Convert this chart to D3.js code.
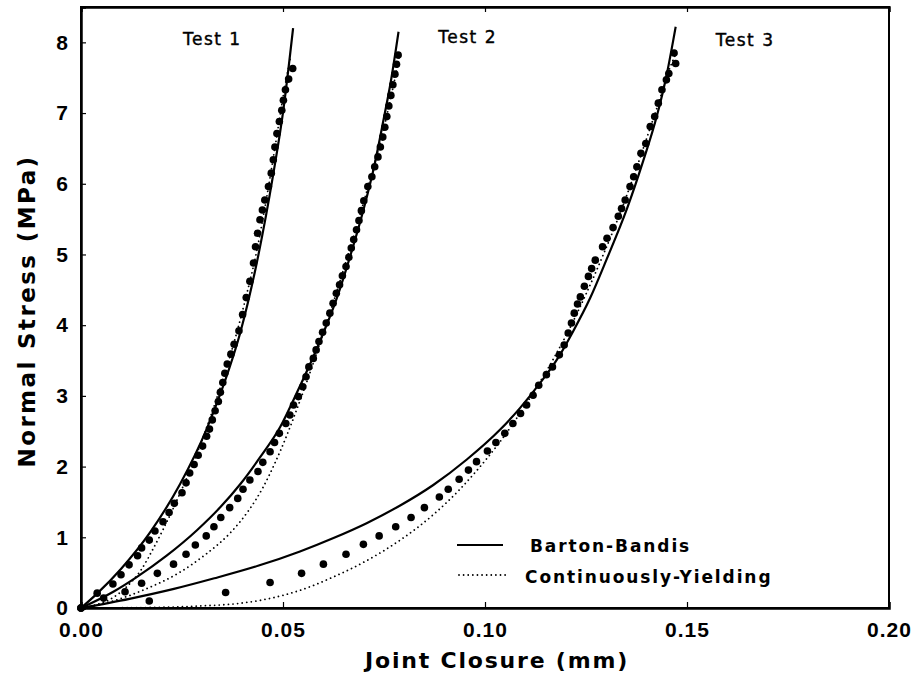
<!DOCTYPE html>
<html>
<head>
<meta charset="utf-8">
<script src="https://cdn.jsdelivr.net/npm/d3@7"></script>
<style>
  body { margin: 0; background: #fff; }
  svg { display: block; }
</style>
</head>
<body>
<svg id="chart" width="914" height="691"></svg>
<script>
// ---- data: joint closure (mm) vs normal stress (MPa) ----
const xTickValues = [0, 0.05, 0.10, 0.15, 0.20];
const yTickValues = [0, 1, 2, 3, 4, 5, 6, 7, 8];
const testNames = ["Test 1", "Test 2", "Test 3"];
const modelNames = ["Barton-Bandis", "Continuously-Yielding"];

// measured points [closure, stress]
const test1Measured = [
  [0, 0], [0.0040, 0.21], [0.0079, 0.34], [0.0099, 0.47], [0.0119, 0.61], [0.0140, 0.74],
  [0.0150, 0.85], [0.0169, 0.96], [0.0183, 1.09], [0.0203, 1.22], [0.0218, 1.35], [0.0231, 1.48],
  [0.0250, 1.63], [0.0260, 1.77], [0.0269, 1.91], [0.0280, 2.03], [0.0290, 2.16], [0.0301, 2.29],
  [0.0311, 2.43], [0.0318, 2.53], [0.0325, 2.66], [0.0332, 2.79], [0.0340, 2.92], [0.0345, 3.05],
  [0.0351, 3.19], [0.0356, 3.32], [0.0362, 3.45], [0.0371, 3.59], [0.0379, 3.73], [0.0391, 3.92],
  [0.0400, 4.15], [0.0409, 4.39], [0.0418, 4.62], [0.0427, 4.88], [0.0432, 5.11], [0.0437, 5.30],
  [0.0443, 5.49], [0.0449, 5.63], [0.0455, 5.77], [0.0464, 5.96], [0.0471, 6.15], [0.0476, 6.34],
  [0.0480, 6.52], [0.0485, 6.71], [0.0491, 6.88], [0.0497, 7.04], [0.0501, 7.18], [0.0506, 7.33],
  [0.0514, 7.48], [0.0524, 7.63]
];
const test2Measured = [
  [0, 0], [0.0056, 0.14], [0.0109, 0.23], [0.0150, 0.35], [0.0189, 0.49], [0.0229, 0.62],
  [0.0260, 0.76], [0.0283, 0.89], [0.0310, 1.02], [0.0329, 1.15], [0.0346, 1.28], [0.0368, 1.42],
  [0.0388, 1.55], [0.0401, 1.68], [0.0418, 1.81], [0.0438, 1.93], [0.0450, 2.06], [0.0468, 2.21],
  [0.0479, 2.34], [0.0491, 2.47], [0.0507, 2.61], [0.0517, 2.73], [0.0526, 2.87], [0.0538, 2.99],
  [0.0549, 3.13], [0.0557, 3.27], [0.0564, 3.41], [0.0575, 3.53], [0.0582, 3.65], [0.0589, 3.77],
  [0.0598, 3.90], [0.0607, 4.03], [0.0616, 4.17], [0.0624, 4.31], [0.0632, 4.45], [0.0640, 4.57],
  [0.0647, 4.70], [0.0656, 4.83], [0.0663, 4.96], [0.0669, 5.09], [0.0675, 5.21], [0.0682, 5.35],
  [0.0688, 5.48], [0.0694, 5.62], [0.0700, 5.76], [0.0710, 5.96], [0.0720, 6.10], [0.0727, 6.24],
  [0.0735, 6.38], [0.0741, 6.52], [0.0747, 6.66], [0.0752, 6.80], [0.0757, 6.95], [0.0762, 7.10],
  [0.0767, 7.25], [0.0772, 7.40], [0.0777, 7.55], [0.0781, 7.69], [0.0785, 7.82]
];
const test3Measured = [
  [0, 0], [0.0169, 0.10], [0.0358, 0.22], [0.0468, 0.36], [0.0546, 0.49], [0.0600, 0.62],
  [0.0656, 0.76], [0.0699, 0.90], [0.0738, 1.02], [0.0779, 1.15], [0.0817, 1.28], [0.0850, 1.42],
  [0.0887, 1.57], [0.0909, 1.68], [0.0936, 1.82], [0.0959, 1.95], [0.0979, 2.07], [0.1006, 2.22],
  [0.1027, 2.34], [0.1049, 2.47], [0.1069, 2.61], [0.1088, 2.75], [0.1103, 2.87], [0.1119, 3.01],
  [0.1133, 3.15], [0.1152, 3.30], [0.1167, 3.41], [0.1184, 3.58], [0.1196, 3.72], [0.1206, 3.89],
  [0.1214, 4.03], [0.1221, 4.17], [0.1229, 4.30], [0.1236, 4.40], [0.1246, 4.55], [0.1256, 4.69],
  [0.1264, 4.80], [0.1273, 4.92], [0.1291, 5.11], [0.1302, 5.23], [0.1317, 5.38], [0.1330, 5.54],
  [0.1338, 5.65], [0.1347, 5.77], [0.1359, 5.96], [0.1368, 6.10], [0.1376, 6.24], [0.1386, 6.43],
  [0.1398, 6.57], [0.1409, 6.81], [0.1420, 6.95], [0.1429, 7.14], [0.1438, 7.33], [0.1449, 7.47],
  [0.1455, 7.56], [0.1472, 7.70], [0.1468, 7.85]
];

// Barton-Bandis model curves
const test1Barton = [
  [0, 0], [0.0039, 0.20], [0.0100, 0.56], [0.0171, 1.07], [0.0245, 1.75], [0.0311, 2.53],
  [0.0352, 3.14], [0.0394, 3.89], [0.0435, 4.88], [0.0476, 6.14], [0.0501, 7.05], [0.0525, 8.20]
];
const test2Barton = [
  [0, 0], [0.0080, 0.23], [0.0136, 0.43], [0.0212, 0.74], [0.0287, 1.10], [0.0344, 1.42],
  [0.0394, 1.75], [0.0443, 2.13], [0.0493, 2.56], [0.0534, 3.04], [0.0592, 3.78], [0.0633, 4.38],
  [0.0666, 4.97], [0.0700, 5.65], [0.0727, 6.28], [0.0748, 6.88], [0.0767, 7.45], [0.0786, 8.15]
];
const test3Barton = [
  [0, 0], [0.0120, 0.13], [0.0230, 0.27], [0.0330, 0.42], [0.0440, 0.60], [0.0542, 0.80],
  [0.0625, 0.99], [0.0707, 1.20], [0.0790, 1.45], [0.0872, 1.74], [0.0955, 2.10], [0.1037, 2.52],
  [0.1087, 2.83], [0.1136, 3.18], [0.1180, 3.53], [0.1215, 3.88], [0.1260, 4.38], [0.1301, 4.93],
  [0.1351, 5.64], [0.1392, 6.33], [0.1425, 6.95], [0.1450, 7.55], [0.1472, 8.22]
];

// Continuously-Yielding model curves
const test1Yielding = [
  [0, 0], [0.0040, 0.05], [0.0080, 0.15], [0.0113, 0.30], [0.0150, 0.55], [0.0175, 0.80],
  [0.0204, 1.12], [0.0237, 1.52], [0.0270, 1.95], [0.0300, 2.38], [0.0335, 2.95], [0.0370, 3.58],
  [0.0405, 4.32], [0.0435, 5.05], [0.0460, 5.82], [0.0482, 6.58], [0.0500, 7.22], [0.0518, 7.78]
];
const test2Yielding = [
  [0, 0], [0.0040, 0.04], [0.0080, 0.10], [0.0161, 0.27], [0.0243, 0.50], [0.0309, 0.76],
  [0.0369, 1.06], [0.0415, 1.38], [0.0450, 1.70], [0.0480, 2.05], [0.0510, 2.45], [0.0540, 2.90],
  [0.0570, 3.38], [0.0600, 3.90], [0.0630, 4.42], [0.0660, 4.98], [0.0690, 5.55], [0.0720, 6.15],
  [0.0748, 6.75], [0.0770, 7.30], [0.0790, 7.85]
];
const test3Yielding = [
  [0, 0], [0.0200, 0.01], [0.0300, 0.03], [0.0383, 0.06], [0.0445, 0.11], [0.0507, 0.19],
  [0.0542, 0.25], [0.0625, 0.44], [0.0707, 0.67], [0.0790, 0.96], [0.0872, 1.32], [0.0938, 1.68],
  [0.0988, 2.00], [0.1037, 2.35], [0.1078, 2.68], [0.1120, 3.05], [0.1169, 3.52], [0.1210, 3.96],
  [0.1250, 4.44], [0.1290, 4.96], [0.1330, 5.52], [0.1365, 6.06], [0.1400, 6.64], [0.1430, 7.15],
  [0.1455, 7.60], [0.1474, 7.86]
];

// ---- layout ----
const W = 914, H = 691;
const margin = { left: 81, right: 25, top: 7, bottom: 83 };
const svg = d3.select("#chart");

const x = d3.scaleLinear().domain([0, 0.2]).range([margin.left, W - margin.right]);
const y = d3.scaleLinear().domain([0, 8.5]).range([H - margin.bottom, margin.top]);

const tickFont = "'Liberation Sans', Arial, sans-serif";
const titleFont = "'DejaVu Sans', Verdana, sans-serif";

// frame
svg.append("rect")
  .attr("x", x(0)).attr("y", y(8.5))
  .attr("width", x(0.2) - x(0)).attr("height", y(0) - y(8.5))
  .attr("fill", "none").attr("stroke", "#000").attr("stroke-width", 2);

// axes with inward ticks
const xAxis = svg.append("g")
  .attr("transform", `translate(0,${y(0)})`)
  .call(d3.axisBottom(x).tickValues(xTickValues).tickFormat(d3.format(".2f"))
    .tickSize(-6).tickPadding(14));
const xTop = svg.append("g")
  .attr("transform", `translate(0,${y(8.5)})`)
  .call(d3.axisTop(x).tickValues(xTickValues).tickSize(-5).tickFormat(""));
const yAxis = svg.append("g")
  .attr("transform", `translate(${x(0)},0)`)
  .call(d3.axisLeft(y).tickValues(yTickValues).tickFormat(d3.format("d"))
    .tickSize(-5).tickPadding(12));

[xAxis, xTop, yAxis].forEach(g => {
  g.select(".domain").attr("stroke", "#000").attr("stroke-width", 2.5);
  g.selectAll(".tick line").attr("stroke", "#000").attr("stroke-width", 1.2);
  g.selectAll(".tick text")
    .attr("fill", "#000")
    .style("font-family", tickFont)
    .style("font-size", "21px")
    .style("font-weight", "bold")
    .style("letter-spacing", "1px");
});

// axis titles
svg.append("text")
  .attr("x", 497).attr("y", 668)
  .attr("text-anchor", "middle")
  .style("font-family", titleFont).style("font-size", "22px").style("font-weight", "bold")
  .style("letter-spacing", "1.8px")
  .text("Joint Closure (mm)");
svg.append("text")
  .attr("transform", "translate(35,311) rotate(-90)")
  .attr("text-anchor", "middle")
  .style("font-family", titleFont).style("font-size", "23px").style("font-weight", "bold")
  .style("letter-spacing", "2.4px")
  .text("Normal Stress (MPa)");

// curves and points
const line = d3.line().x(d => x(d[0])).y(d => y(d[1])).curve(d3.curveMonotoneX);
const plot = svg.append("g");

const tests = [
  { name: testNames[0], measured: test1Measured, barton: test1Barton, yielding: test1Yielding, label: [0.0325, 7.96] },
  { name: testNames[1], measured: test2Measured, barton: test2Barton, yielding: test2Yielding, label: [0.0957, 7.99] },
  { name: testNames[2], measured: test3Measured, barton: test3Barton, yielding: test3Yielding, label: [0.1644, 7.95] }
];

tests.forEach(t => {
  plot.append("path").datum(t.yielding)
    .attr("d", line).attr("fill", "none").attr("stroke", "#000")
    .attr("stroke-width", 1.8).attr("stroke-linecap", "round")
    .attr("stroke-dasharray", "0.01 4.6");
  plot.append("path").datum(t.barton)
    .attr("d", line).attr("fill", "none").attr("stroke", "#000")
    .attr("stroke-width", 2.2);
  plot.append("g").selectAll("circle").data(t.measured).join("circle")
    .attr("cx", d => x(d[0])).attr("cy", d => y(d[1])).attr("r", 3.8).attr("fill", "#000");
  plot.append("text")
    .attr("x", x(t.label[0])).attr("y", y(t.label[1]))
    .attr("text-anchor", "middle")
    .style("font-family", titleFont).style("font-size", "17px")
    .style("stroke", "#000").style("stroke-width", 0.4)
    .style("letter-spacing", "1.5px")
    .text(t.name);
});

// legend
const legend = svg.append("g");
const legendRows = [
  { name: modelNames[0], dash: null, x1: 457, x2: 503, ly: 545, tx: 530, ty: 552 },
  { name: modelNames[1], dash: "0.01 4.6", x1: 459, x2: 506, ly: 575, tx: 525, ty: 583 }
];
legendRows.forEach(r => {
  legend.append("line")
    .attr("x1", r.x1).attr("x2", r.x2).attr("y1", r.ly).attr("y2", r.ly)
    .attr("stroke", "#000")
    .attr("stroke-width", r.dash ? 1.8 : 2.2)
    .attr("stroke-linecap", r.dash ? "round" : "butt")
    .attr("stroke-dasharray", r.dash);
  legend.append("text")
    .attr("x", r.tx).attr("y", r.ty)
    .style("font-family", titleFont).style("font-size", "17px").style("font-weight", "bold")
    .style("letter-spacing", "1.9px")
    .text(r.name);
});
</script>
</body>
</html>
